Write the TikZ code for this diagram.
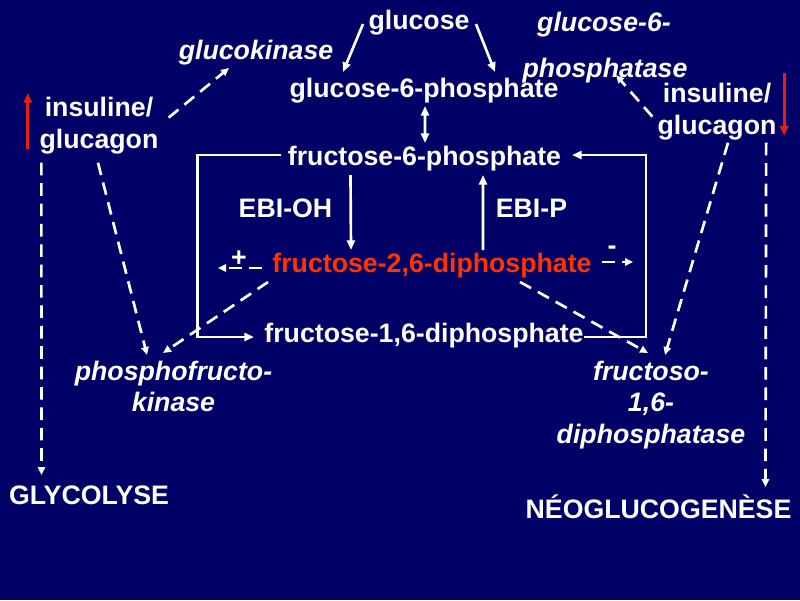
\documentclass[tikz,border=0pt]{standalone}
\usepackage{fontspec}
\setmainfont{Liberation Sans}
\usepackage{tikz}
\usetikzlibrary{arrows.meta, positioning, calc}
\definecolor{navy}{RGB}{0, 0, 102}
\definecolor{hotred}{RGB}{255, 51, 0}
\definecolor{arrowred}{RGB}{230, 30, 20}

\begin{document}
\begin{tikzpicture}[
    x=0.025cm, y=-0.025cm,
    mol/.style={text=white, inner sep=0pt, align=center, font=\fontsize{19}{22.5}\selectfont\bfseries},
    enzyme/.style={mol, font=\fontsize{19}{22.5}\selectfont\bfseries\itshape},
    arrow/.style={-{Triangle[length=2.4mm, width=2mm]}, line width=1.9pt, white},
    biarrow/.style={arrow, {Triangle[length=2.4mm, width=2mm]}-{Triangle[length=2.4mm, width=2mm]}},
    dasharrow/.style={arrow, -{Triangle[length=2mm, width=1.8mm]}, dash pattern=on 9pt off 5.5pt},
    redarrow/.style={-{Triangle[length=2.4mm, width=2mm]}, line width=2pt, arrowred}
]
\fill[navy] (0,0) rectangle (800,600);

\node[mol, anchor=base] (glucose) at (419,29) {glucose};
\node[enzyme, anchor=base] (glucokinase) at (256,59) {glucokinase};
\node[mol, anchor=base] (g6p) at (424,97) {glucose-6-phosphate};
\node[enzyme, anchor=base] (g6pase) at (604,31) {glucose-6-};
\node[enzyme, anchor=base] (phosphatase) at (605,77) {phosphatase};
\node[mol, anchor=north] (insL) at (99,97) {insuline/\\glucagon};
\node[mol, anchor=north] (insR) at (717,83) {insuline/\\glucagon};
\node[mol, anchor=base] (f6p) at (424.5,165) {fructose-6-phosphate};
\node[mol, anchor=base] (ebiOH) at (285.5,217) {EBI-OH};
\node[mol, anchor=base] (ebiP) at (531.5,217) {EBI-P};
\node[mol, anchor=base, text=hotred] (f26) at (432,272) {fructose-2,6-diphosphate};
\node[mol, anchor=base] (plus) at (239,266) {+};
\node[mol, anchor=base] (minus) at (612,254) {-};
\node[mol, anchor=base] (f16) at (424,342) {fructose-1,6-diphosphate};
\node[enzyme, anchor=north] (pfk) at (173.5,360.5) {phosphofructo-\\kinase};
\node[enzyme, anchor=north] (fbpase) at (651,360.5) {fructoso-\\1,6-\\diphosphatase};
\node[mol, anchor=base] (glycolyse) at (89,504) {GLYCOLYSE};
\node[mol, anchor=base] (neo) at (658.5,518) {NÉOGLUCOGENÈSE};

\draw[arrow] ($(glucose.base)+(-56,-5)$) -- ($(g6p.base)+(-81,-25)$);
\draw[arrow] ($(glucose.base)+(57,-5)$) -- ($(g6p.base)+(71,-25)$);
\draw[biarrow] ($(g6p.base)+(1,9)$) -- ($(f6p.base)+(0.5,-22)$);
\draw[arrow] ($(f6p.base)+(-74,10)$) -- ($(f26.base)+(-81,-22)$);
\draw[arrow] ($(f26.base)+(51,-22)$) -- ($(f6p.base)+(58.5,10)$);
\draw[arrow] ($(f6p.base)+(-144,-10)$) -- ++(-83,0) |- ($(f16.base)+(-170,-5)$);
\draw[arrow] ($(f16.base)+(160,-5)$) -- ++(62,0) |- ($(f6p.base)+(147.5,-10)$);

\draw[dasharrow] ($(f26.base)+(-170,-4)$) -- ($(plus.base)+(-21,2)$);
\draw[dasharrow] ($(f26.base)+(170,-10)$) -- ($(minus.base)+(21,8)$);
\draw[dasharrow] ($(insL.east)+(10,-8)$) -- ($(glucokinase.base)+(-27,9)$);
\draw[dasharrow] ($(insR.west)+(-5,5)$) -- ($(phosphatase.base)+(11,-2)$);
\draw[dasharrow] ($(insL.south west)+(2,8.5)$) -- ($(glycolyse.base)+(-47.5,-29)$);
\draw[dasharrow] ($(insL.south)+(-1,8.5)$) -- ($(pfk.north)+(-26.5,-5.5)$);
\draw[dasharrow] ($(f26.base)+(-164,10)$) -- ($(pfk.north)+(-10.5,-7.5)$);
\draw[dasharrow] ($(f26.base)+(88,10)$) -- ($(fbpase.north)+(-3,-7.5)$);
\draw[dasharrow] ($(insR.south)+(11,2.5)$) -- ($(fbpase.north)+(14,-5.5)$);
\draw[dasharrow] ($(insR.south east)+(-10.5,2.5)$) -- ($(neo.base)+(107,-31)$);

\draw[redarrow] ($(insL.south west)+(-11.5,-5.5)$) -- ($(insL.north west)+(-11.5,-4)$);
\draw[redarrow] ($(insR.north east)+(7.5,-10)$) -- ($(insR.south east)+(7.5,-4.5)$);
\end{tikzpicture}
\end{document}
